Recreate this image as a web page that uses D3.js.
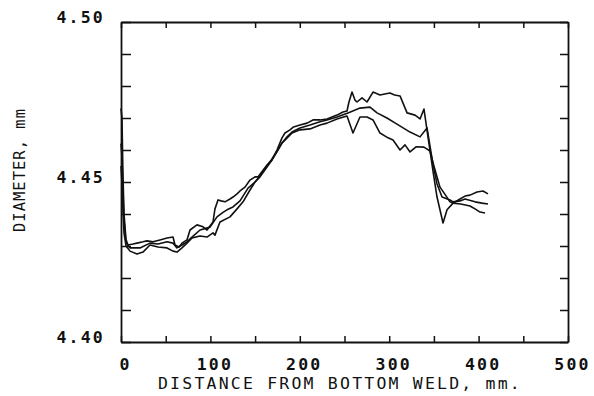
<!DOCTYPE html>
<html><head><meta charset="utf-8">
<script src="https://cdn.jsdelivr.net/npm/d3@7"></script>
<style>
html,body{margin:0;padding:0;background:#fff;}
svg text{font-family:"DejaVu Sans Mono",monospace;fill:#111;font-weight:bold;}
</style></head>
<body><svg id="c" width="594" height="396"></svg>
<script>
// ---- data (distance in mm, diameter in mm) ----
const upperX = [0,1.1,2.2,3.4,5.6,7.8,13.4,17.9,24.6,29.1,35.8,43.6,51.5,58.2,60.4,65,68.2,73.8,77.2,85,91.7,96.2,102.9,105.1,108.5,112,116.3,121.9,125.3,129.8,133.1,138.7,144.3,149.9,153.2,163.3,168.9,174.5,180.1,183.4,189,193,200.2,208.1,214.8,222.6,230.4,241.6,248.3,252.8,255,258.4,261.7,264,269.6,275.2,281.9,289.7,295,300.9,306,312.1,320,328.9,334.5,338.9,343.4,349,353.5,360.2,364.7,371.4,379.2,384.8,390.4,398.2,404.9,410.5];
const upperY = [4.473,4.470,4.452,4.440,4.432,4.4303,4.4306,4.4309,4.4313,4.4316,4.4313,4.4319,4.4325,4.4328,4.4303,4.4297,4.4309,4.4319,4.435,4.4366,4.436,4.435,4.4375,4.4416,4.4444,4.4441,4.4438,4.4447,4.4453,4.4463,4.4472,4.4484,4.4506,4.4516,4.4516,4.4553,4.4569,4.46,4.4638,4.4653,4.4663,4.4672,4.4678,4.4684,4.4694,4.4694,4.4697,4.4709,4.4719,4.4722,4.475,4.4781,4.4756,4.475,4.4763,4.475,4.4781,4.4772,4.4775,4.4778,4.4772,4.4769,4.4716,4.4709,4.4697,4.4728,4.4641,4.4534,4.4453,4.4372,4.4413,4.4434,4.4447,4.4456,4.4459,4.4469,4.4472,4.4463];

const middleX = [0,1.1,2.2,3.4,5.6,10.1,21.3,32.4,41.4,51.5,58.2,62.6,68.2,73.8,79.4,88.4,99.6,107.4,114.1,118.6,125.3,133.1,142.1,149.9,155.5,163.3,168.9,174.5,180.1,185.7,191.3,200.2,211.4,222.6,230.4,241.6,253.9,267.3,278.5,286.4,297.5,308.7,323.3,334.5,342.3,345.6,349,353.5,359.1,368,371.4,379.2,384.8,396,403.8,410.5];
const middleY = [4.462,4.458,4.447,4.438,4.431,4.4294,4.4294,4.4309,4.4306,4.4313,4.4309,4.4294,4.4303,4.4313,4.4328,4.435,4.4359,4.4391,4.4405,4.4413,4.4422,4.4441,4.4481,4.45,4.4516,4.4547,4.4569,4.4594,4.4622,4.4641,4.4656,4.4669,4.4678,4.4688,4.4694,4.4703,4.4716,4.4731,4.4734,4.4716,4.47,4.4681,4.4656,4.4641,4.4669,4.4613,4.4555,4.4494,4.4453,4.4444,4.4438,4.4441,4.4447,4.4438,4.4434,4.4431];

const lowerX = [0,1.1,2.2,3.4,5.6,10.1,17.9,24.6,32.4,41.4,51.5,58.2,62.6,68.2,73.8,79.4,88.4,96.2,102.9,105.1,110.7,121.9,129.8,136.5,144.3,149.9,155.5,163.3,168.9,174.5,180.1,183.4,187,191.3,200.2,211.4,222.6,230.4,241.6,252.8,259.5,267.3,275.2,281.9,289.7,298.7,304.3,312.1,317.7,323.3,330,338.9,345.6,351.2,356.8,363,368,371.4,380,390.4,396,401.6,407.2];
const lowerY = [4.455,4.450,4.441,4.434,4.430,4.4284,4.4275,4.4281,4.4303,4.4297,4.4294,4.4284,4.4281,4.4294,4.4309,4.4325,4.4331,4.4328,4.4341,4.4334,4.4375,4.4391,4.4416,4.4438,4.4475,4.45,4.4519,4.455,4.4572,4.4597,4.4622,4.4631,4.4641,4.4653,4.4663,4.4666,4.4678,4.4684,4.4697,4.4706,4.4653,4.4703,4.4703,4.4694,4.4653,4.4638,4.4631,4.46,4.4616,4.4594,4.461,4.4609,4.4597,4.4538,4.4484,4.4459,4.4438,4.4434,4.4431,4.4425,4.4416,4.4406,4.4403];

const xTicks = [0,50,100,150,200,250,300,350,400,450,500];
const xTickLabels = ["0","","100","","200","","300","","400","","500"];
const yTicks = [4.40,4.41,4.42,4.43,4.44,4.45,4.46,4.47,4.48,4.49,4.50];
const yTickLabels = ["4.40","","","","","4.45","","","","","4.50"];
const xTitle = "DISTANCE FROM BOTTOM WELD, mm.";
const yTitle = "DIAMETER, mm";

// ---- layout ----
const L = 121, R = 568, T = 22, B = 342;
const svg = d3.select("#c");
const x = d3.scaleLinear().domain([0,500]).range([L,R]);
const y = d3.scaleLinear().domain([4.40,4.50]).range([B,T]);
const ink = "#111";

function styleAxis(g){
  g.selectAll(".domain").attr("stroke",ink).attr("stroke-width",1.8);
  g.selectAll(".tick line").attr("stroke",ink).attr("stroke-width",1.5);
}

// bottom axis with labels
const gB = svg.append("g").attr("transform",`translate(0,${B})`)
  .call(d3.axisBottom(x).tickValues(xTicks).tickSizeInner(-6).tickSizeOuter(0).tickPadding(0)
    .tickFormat((d,i)=>xTickLabels[i]));
styleAxis(gB);
gB.selectAll(".tick text").attr("y",28).attr("dy",0).attr("dx",4)
  .style("font-size","16.5px").style("letter-spacing","2.2px");

// top axis
const gT = svg.append("g").attr("transform",`translate(0,${T})`)
  .call(d3.axisTop(x).tickValues(xTicks).tickSizeInner(-6).tickSizeOuter(0).tickFormat(""));
styleAxis(gT);

// left axis with labels
const gL = svg.append("g").attr("transform",`translate(${L},0)`)
  .call(d3.axisLeft(y).tickValues(yTicks).tickSizeInner(-10).tickSizeOuter(0).tickPadding(0)
    .tickFormat((d,i)=>yTickLabels[i]));
styleAxis(gL);
gL.selectAll(".tick text").attr("x",-16).attr("dy",0).attr("y",0)
  .style("font-size","16.5px").style("letter-spacing","2.2px");

// right axis
const gR = svg.append("g").attr("transform",`translate(${R},0)`)
  .call(d3.axisRight(y).tickValues(yTicks).tickSizeInner(-8).tickSizeOuter(0).tickFormat(""));
styleAxis(gR);

// titles
svg.append("text").attr("x",340).attr("y",389).attr("text-anchor","middle")
  .style("font-size","16.5px").style("letter-spacing","2.2px").style("font-weight","normal").text(xTitle);
svg.append("text").attr("transform","translate(25,170) rotate(-90)").attr("text-anchor","middle")
  .style("font-size","15.5px").style("letter-spacing","1px").style("font-weight","normal").text(yTitle);

// curves
const line = d3.line().x(d=>x(d[0])).y(d=>y(d[1]));
[[upperX,upperY],[middleX,middleY],[lowerX,lowerY]].forEach(([xs,ys])=>{
  svg.append("path").datum(xs.map((v,i)=>[v,ys[i]]))
    .attr("d",line).attr("fill","none").attr("stroke",ink)
    .attr("stroke-width",1.6).attr("stroke-linejoin","round");
});
</script></body></html>
